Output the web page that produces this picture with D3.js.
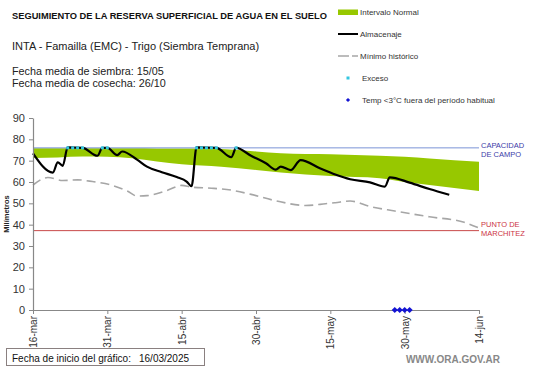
<!DOCTYPE html>
<html lang="es">
<head>
<meta charset="utf-8">
<title>Seguimiento de la reserva superficial de agua en el suelo</title>
<script src="https://d3js.org/d3.v7.min.js"></script>
<style>
  body { margin: 0; background: #fff; }
  svg { font-family: "Liberation Sans", Arial, sans-serif; }
  .axis path, .axis line { stroke: #888; }
  .axis text { fill: #333; }
</style>
</head>
<body>
<svg id="chart" width="541" height="368"></svg>
<script>
// Datos (días desde el 16/03/2025)
const tickDays = [0, 15, 30, 45, 60, 75, 90];
const tickLabels = ["16-mar", "31-mar", "15-abr", "30-abr", "15-may", "30-may", "14-jun"];
const yTicks = [0, 10, 20, 30, 40, 50, 60, 70, 80, 90];

// Intervalo normal (banda verde)
const bandDays  = [0, 5, 10, 15, 20, 25, 30, 38, 45, 50, 60, 70, 75, 80, 90];
const bandUpper = [75.8, 75.8, 75.8, 75.8, 75.8, 75.7, 75.7, 75.5, 74.3, 73.5, 73.0, 72.3, 71.8, 71.0, 69.5];
const bandLower = [71.3, 71.5, 71.9, 71.8, 71.1, 69.6, 68.3, 67.2, 65.6, 64.4, 62.8, 61.8, 60.0, 58.6, 55.8];

// Almacenaje
const almDays   = [0, 4, 5, 6, 7, 10, 13, 14, 15, 17, 18, 21, 23, 26, 29, 31, 32, 33, 37, 40, 41, 44, 47, 49, 50, 52, 54, 58, 61, 64, 68, 71, 72, 76, 80, 84];
const almValues = [73.4, 64.4, 69.2, 67.6, 76.2, 76.0, 72.3, 76.0, 76.0, 72.6, 74.3, 70.5, 67.2, 64.6, 62.3, 60.2, 58.0, 76.2, 76.0, 71.6, 76.0, 72.3, 68.8, 65.8, 67.2, 65.6, 70.3, 66.3, 63.5, 61.3, 59.8, 57.8, 62.2, 59.7, 56.7, 54.0];

// Mínimo histórico
const minDays   = [0, 3, 6, 9, 12, 16, 19, 21, 23, 27, 30, 32, 36, 40, 44, 49, 55, 59, 61, 64, 68, 73, 80, 87, 90];
const minValues = [58.6, 62.1, 60.7, 61.0, 60.2, 58.4, 55.8, 53.4, 53.6, 56.0, 58.4, 57.6, 57.1, 56.2, 54.2, 51.2, 49.0, 49.8, 50.3, 51.1, 48.5, 46.4, 43.7, 41.1, 38.5];

// Exceso y temperatura < 3°C
const excesoDays = [7, 8, 9, 10, 14, 15, 33, 34, 35, 36, 37, 41];
const excesoValue = 76;
const tempDays = [73, 74, 75, 76];

const capacidadCampo = 76;
const puntoMarchitez = 37.2;

const svg = d3.select("#chart");

const x = d3.scaleLinear().domain([0, 90]).range([33, 479]);
const y = d3.scaleLinear().domain([0, 90]).range([310, 118]);

// Banda
const band = bandDays.map((d, i) => ({ d, hi: bandUpper[i], lo: bandLower[i] }));
svg.append("path")
  .datum(band)
  .attr("fill", "#97c800")
  .attr("d", d3.area().x(p => x(p.d)).y0(p => y(p.lo)).y1(p => y(p.hi)).curve(d3.curveMonotoneX));

// Capacidad de campo y punto de marchitez
svg.append("line")
  .attr("x1", x(0)).attr("x2", x(90))
  .attr("y1", y(capacidadCampo)).attr("y2", y(capacidadCampo))
  .attr("stroke", "#7b93d6").attr("stroke-width", 1);
svg.append("line")
  .attr("x1", x(0)).attr("x2", x(90))
  .attr("y1", y(puntoMarchitez)).attr("y2", y(puntoMarchitez))
  .attr("stroke", "#c94848").attr("stroke-width", 1);

// Mínimo histórico
svg.append("path")
  .datum(minDays.map((d, i) => [d, minValues[i]]))
  .attr("fill", "none")
  .attr("stroke", "#a6a6a6")
  .attr("stroke-width", 1.6)
  .attr("stroke-dasharray", "9,5")
  .attr("d", d3.line().x(p => x(p[0])).y(p => y(p[1])).curve(d3.curveMonotoneX));

// Almacenaje
svg.append("path")
  .datum(almDays.map((d, i) => [d, almValues[i]]))
  .attr("fill", "none")
  .attr("stroke", "#000")
  .attr("stroke-width", 2.2)
  .attr("stroke-linejoin", "round")
  .attr("d", d3.line().x(p => x(p[0])).y(p => y(p[1])).curve(d3.curveMonotoneX));

// Exceso
svg.selectAll(".exceso")
  .data(excesoDays)
  .join("rect")
  .attr("class", "exceso")
  .attr("x", d => x(d) - 1.5).attr("y", y(excesoValue) - 1.5)
  .attr("width", 3).attr("height", 3)
  .attr("fill", "#33c6e0");

// Ejes
const yAxis = svg.append("g")
  .attr("class", "axis")
  .attr("transform", `translate(${x(0)},0)`)
  .call(d3.axisLeft(y).tickValues(yTicks).tickSize(4).tickSizeOuter(0));
yAxis.selectAll("text").attr("font-size", 11).attr("dx", "-1");
yAxis.select(".domain").attr("stroke-width", 1.2);

const xAxis = svg.append("g")
  .attr("class", "axis")
  .attr("transform", `translate(0,${y(0)})`)
  .call(d3.axisBottom(x).tickValues(tickDays).tickFormat((d, i) => tickLabels[i]).tickSize(4).tickSizeOuter(0));
xAxis.selectAll("text")
  .attr("font-size", 10)
  .attr("transform", "rotate(-90)")
  .attr("text-anchor", "end")
  .attr("x", -6).attr("y", 0).attr("dy", "0.35em");
xAxis.select(".domain").attr("stroke-width", 1.2);

// Temp < 3°C
const diamond = d3.symbol().type(d3.symbolSquare).size(19);
svg.selectAll(".temp")
  .data(tempDays)
  .join("path")
  .attr("class", "temp")
  .attr("transform", d => `translate(${x(d)},${y(0)}) rotate(45)`)
  .attr("d", diamond)
  .attr("fill", "#1414d2");

svg.append("text")
  .attr("transform", `translate(9,${y(45)}) rotate(-90)`)
  .attr("text-anchor", "middle")
  .attr("font-size", 7.5).attr("font-weight", "bold")
  .attr("fill", "#222")
  .text("Milímetros");

// Etiquetas a la derecha
const rightLabels = [
  { t: "CAPACIDAD", yy: 145, c: "#3c3ca8" },
  { t: "DE  CAMPO", yy: 154, c: "#3c3ca8" },
  { t: "PUNTO  DE", yy: 224, c: "#cc3344" },
  { t: "MARCHITEZ", yy: 233, c: "#cc3344" }
];
svg.selectAll(".rlab")
  .data(rightLabels)
  .join("text")
  .attr("x", 481).attr("y", d => d.yy).attr("dy", "0.35em")
  .attr("font-size", 7.5).attr("fill", d => d.c)
  .text(d => d.t);

// Títulos
svg.append("text")
  .attr("x", 12).attr("y", 16).attr("dy", "0.35em")
  .attr("font-size", 9.3).attr("font-weight", "bold").attr("fill", "#111")
  .text("SEGUIMIENTO DE LA RESERVA SUPERFICIAL DE AGUA EN EL SUELO");
const info = [
  { t: "INTA - Famailla (EMC) - Trigo (Siembra Temprana)", yy: 46, fs: 11 },
  { t: "Fecha media de siembra: 15/05", yy: 71, fs: 10.8 },
  { t: "Fecha media de cosecha: 26/10", yy: 83, fs: 10.8 }
];
svg.selectAll(".info")
  .data(info)
  .join("text")
  .attr("x", 12).attr("y", d => d.yy).attr("dy", "0.35em")
  .attr("font-size", d => d.fs).attr("fill", "#222")
  .text(d => d.t);

// Leyenda
const lg = svg.append("g");
lg.append("rect").attr("x", 338).attr("y", 9.5).attr("width", 20).attr("height", 5.5).attr("fill", "#97c800");
lg.append("line").attr("x1", 338).attr("x2", 358).attr("y1", 34).attr("y2", 34).attr("stroke", "#000").attr("stroke-width", 2);
lg.append("line").attr("x1", 338).attr("x2", 358).attr("y1", 56).attr("y2", 56)
  .attr("stroke", "#a6a6a6").attr("stroke-width", 1.6).attr("stroke-dasharray", "11,3");
lg.append("rect").attr("x", 346.5).attr("y", 76.5).attr("width", 3).attr("height", 3).attr("fill", "#33c6e0");
lg.append("path").attr("transform", "translate(348,100) rotate(45)").attr("d", d3.symbol().type(d3.symbolSquare).size(9)).attr("fill", "#1414d2");
const legendItems = [
  { t: "Intervalo Normal", xx: 360, yy: 12 },
  { t: "Almacenaje", xx: 360, yy: 34 },
  { t: "Mínimo histórico", xx: 360, yy: 56 },
  { t: "Exceso", xx: 362, yy: 78 },
  { t: "Temp <3°C fuera del período habitual", xx: 362, yy: 100 }
];
lg.selectAll(".li")
  .data(legendItems)
  .join("text")
  .attr("x", d => d.xx).attr("y", d => d.yy).attr("dy", "0.35em")
  .attr("font-size", 8).attr("fill", "#333")
  .text(d => d.t);

// Pie
svg.append("rect")
  .attr("x", 6.5).attr("y", 348.5).attr("width", 198).attr("height", 17)
  .attr("fill", "#fff").attr("stroke", "#8a8080").attr("stroke-width", 1);
svg.append("text")
  .attr("x", 12).attr("y", 358).attr("dy", "0.35em")
  .attr("font-size", 10).attr("fill", "#111")
  .text("Fecha de inicio del gráfico:");
svg.append("text")
  .attr("x", 139).attr("y", 358).attr("dy", "0.35em")
  .attr("font-size", 10).attr("fill", "#111")
  .text("16/03/2025");
svg.append("text")
  .attr("x", 500).attr("y", 359).attr("dy", "0.35em")
  .attr("text-anchor", "end")
  .attr("font-size", 10).attr("font-weight", "bold").attr("fill", "#888")
  .text("WWW.ORA.GOV.AR");
</script>
</body>
</html>
